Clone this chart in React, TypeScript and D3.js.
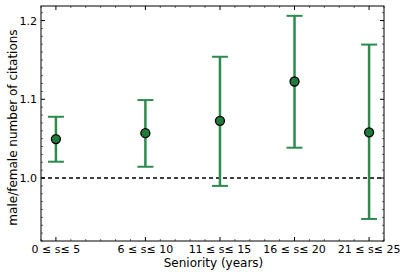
import React from "react";
import * as d3 from "d3";

const xValues = [0, 6, 11, 16, 21];
const tickLabels = ["0 ≤ s≤ 5", "6 ≤ s≤ 10", "11 ≤ s≤ 15", "16 ≤ s≤ 20", "21 ≤ s≤ 25"];
const ratios = [1.0495, 1.057, 1.0727, 1.1226, 1.058];
const upper = [1.0778, 1.099, 1.154, 1.206, 1.1695];
const lower = [1.0207, 1.0143, 0.990, 1.0385, 0.948];
const yTicks = [1.0, 1.1, 1.2];

const W = 407, H = 276;
const L = 41, R = 384, T = 6, B = 241;

export default function App() {
  const x = d3.scaleLinear().domain([-1, 22]).range([L, R]);
  const y = d3.scaleLinear().domain([0.92, 1.2185]).range([B, T]);
  const font = "DejaVu Sans, sans-serif";
  const lineColor = "#2e8b4e";
  const fillColor = "#1f7a3c";
  const xMinor = d3.range(-1, 23).filter((v) => !xValues.includes(v));
  const yMinor = d3.range(92, 122).map((v) => v / 100).filter((v) => !yTicks.some((t) => Math.abs(t - v) < 1e-6));
  const cap = 8;
  return (
    <svg width={W} height={H} style={{ position: "absolute", left: 0, top: 0 }}>
      <rect x={0} y={0} width={W} height={H} fill="white" />
      {/* dashed line */}
      <line x1={L} x2={R} y1={y(1.0)} y2={y(1.0)} stroke="black" strokeWidth={1.5} strokeDasharray="4,3" />
      {/* error bars */}
      {xValues.map((xv, i) => (
        <g key={i} stroke={lineColor} strokeWidth={2.5}>
          <line x1={x(xv)} x2={x(xv)} y1={y(upper[i])} y2={y(lower[i])} />
          <line x1={x(xv) - cap} x2={x(xv) + cap} y1={y(upper[i])} y2={y(upper[i])} strokeWidth={2} />
          <line x1={x(xv) - cap} x2={x(xv) + cap} y1={y(lower[i])} y2={y(lower[i])} strokeWidth={2} />
        </g>
      ))}
      {xValues.map((xv, i) => (
        <circle key={"c" + i} cx={x(xv)} cy={y(ratios[i])} r={4.5} fill={fillColor} stroke="black" strokeWidth={1.3} />
      ))}
      {/* frame */}
      <rect x={L} y={T} width={R - L} height={B - T} fill="none" stroke="black" strokeWidth={1} />
      {/* x ticks */}
      {xValues.map((xv, i) => (
        <g key={"xt" + i}>
          <line x1={x(xv)} x2={x(xv)} y1={B} y2={B - 4} stroke="black" />
          <line x1={x(xv)} x2={x(xv)} y1={T} y2={T + 4} stroke="black" />
          <text x={x(xv)} y={B + 12} textAnchor="middle" fontFamily={font} fontSize={11} fill="black">
            {tickLabels[i]}
          </text>
        </g>
      ))}
      {xMinor.map((xv) => (
        <g key={"xm" + xv} stroke="black" strokeWidth={0.6}>
          <line x1={x(xv)} x2={x(xv)} y1={B} y2={B - 2} />
          <line x1={x(xv)} x2={x(xv)} y1={T} y2={T + 2} />
        </g>
      ))}
      {/* y ticks */}
      {yTicks.map((t) => (
        <g key={"yt" + t}>
          <line x1={L} x2={L + 4} y1={y(t)} y2={y(t)} stroke="black" />
          <line x1={R} x2={R - 4} y1={y(t)} y2={y(t)} stroke="black" />
          <text x={L - 4} y={y(t) + 4} textAnchor="end" fontFamily={font} fontSize={11} fill="black">
            {t.toFixed(1)}
          </text>
        </g>
      ))}
      {yMinor.map((t) => (
        <g key={"ym" + t} stroke="black" strokeWidth={0.6}>
          <line x1={L} x2={L + 2} y1={y(t)} y2={y(t)} />
          <line x1={R} x2={R - 2} y1={y(t)} y2={y(t)} />
        </g>
      ))}
      <text x={(L + R) / 2 + 1} y={267} textAnchor="middle" fontFamily={font} fontSize={12} fill="black">
        Seniority (years)
      </text>
      <text
        transform={`translate(17, ${(T + B) / 2 + 4}) rotate(-90)`}
        textAnchor="middle"
        fontFamily={font}
        fontSize={12}
        fill="black"
      >
        male/female number of citations
      </text>
    </svg>
  );
}
